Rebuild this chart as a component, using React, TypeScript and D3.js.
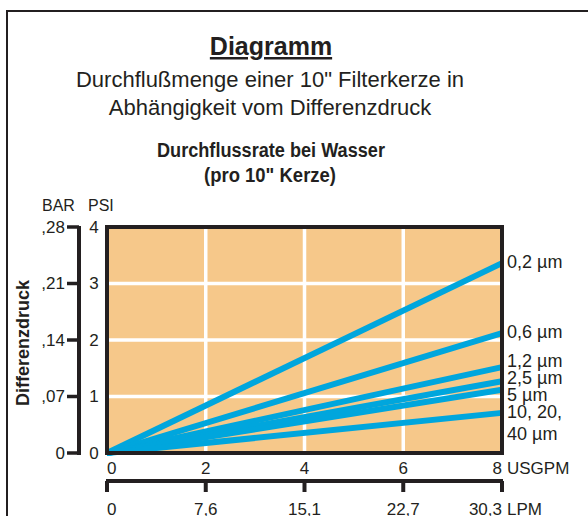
import { useEffect } from 'react';
import * as d3 from 'd3';

// Flow (USGPM) ticks and the matching LPM labels
const usgpmTicks = [0, 2, 4, 6, 8];
const lpmLabels = ['0', '7,6', '15,1', '22,7', '30,3'];

// Pressure ticks: PSI and BAR
const psiTicks = [0, 1, 2, 3, 4];
const barLabels = ['0', ',07', ',14', ',21', ',28'];

// Filter ratings and the pressure drop (PSI) they reach at 8 USGPM
const filterNames = ['0,2 µm', '0,6 µm', '1,2 µm', '2,5 µm', '5 µm', '10, 20,|40 µm'];
const flowRange = [0, 8];
const psiAtMaxFlow = [3.36, 2.12, 1.52, 1.27, 1.12, 0.71];

const FONT = '"Liberation Sans", Arial, sans-serif';
const INK = '#231f20';
const BLUE = '#00a6dd';
const PANEL = '#f6c88a';

const W = 588;
const H = 516;
const plot = { left: 107, right: 502, top: 227, bottom: 453 };

const App = () => {
  useEffect(() => {
    document.body.style.margin = '0';
  }, []);

  const x = d3.scaleLinear().domain(flowRange).range([plot.left, plot.right]);
  const y = d3.scaleLinear().domain([0, 4]).range([plot.bottom, plot.top]);
  const line = d3.line<[number, number]>().x(d => x(d[0])).y(d => y(d[1]));

  // spread the right-hand labels so they don't collide
  const labelY = psiAtMaxFlow.map(v => y(v) + 5);
  const gap = 17;
  for (let k = 0; k < 200; k++) {
    for (let i = 1; i < labelY.length; i++) {
      const diff = labelY[i] - labelY[i - 1];
      if (diff < gap) {
        const s = (gap - diff) / 2;
        labelY[i - 1] -= s;
        labelY[i] += s;
      }
    }
  }

  const barX = 79;
  const lpmY = 481;

  return (
    <svg width={W} height={H} style={{ display: 'block', fontFamily: FONT }}>
      <rect x={0} y={0} width={W} height={H} fill="#fff" />
      {/* outer frame */}
      <rect x={7} y={11} width={700} height={700} fill="none" stroke={INK} strokeWidth={2} />

      {/* titles */}
      <text x={271} y={55} textAnchor="middle" fontSize={25} fontWeight="bold" fill={INK}
        textDecoration="underline">Diagramm</text>
      <text x={270} y={87} textAnchor="middle" fontSize={22} fill={INK}>
        Durchflußmenge einer 10" Filterkerze in
      </text>
      <text x={270} y={115} textAnchor="middle" fontSize={22} fill={INK}>
        Abhängigkeit vom Differenzdruck
      </text>
      <text x={271} y={157} textAnchor="middle" fontSize={20} fontWeight="bold" fill={INK}
        textLength={228} lengthAdjust="spacingAndGlyphs">
        Durchflussrate bei Wasser
      </text>
      <text x={270} y={182} textAnchor="middle" fontSize={20} fontWeight="bold" fill={INK}
        textLength={132} lengthAdjust="spacingAndGlyphs">
        (pro 10" Kerze)
      </text>

      {/* plot panel */}
      <rect x={plot.left} y={plot.top} width={plot.right - plot.left} height={plot.bottom - plot.top} fill={PANEL} />
      {usgpmTicks.slice(1, -1).map(t => (
        <line key={'gx' + t} x1={x(t)} x2={x(t)} y1={plot.top} y2={plot.bottom} stroke="#fff" strokeWidth={3.5} />
      ))}
      {psiTicks.slice(1, -1).map(t => (
        <line key={'gy' + t} x1={plot.left} x2={plot.right} y1={y(t)} y2={y(t)} stroke="#fff" strokeWidth={3.5} />
      ))}
      {psiAtMaxFlow.map((v, i) => (
        <path key={'l' + i} d={line([[flowRange[0], 0], [flowRange[1], v]]) || ''}
          fill="none" stroke={BLUE} strokeWidth={6} />
      ))}
      <rect x={plot.left} y={plot.top} width={plot.right - plot.left} height={plot.bottom - plot.top}
        fill="none" stroke={INK} strokeWidth={4} />

      {/* right-hand filter labels */}
      {filterNames.map((name, i) => (
        <text key={'fn' + i} x={507} y={labelY[i]} fontSize={18} fill={INK}>
          {name.split('|').map((part, j) => (
            <tspan key={j} x={507} dy={j === 0 ? 0 : 22}>{part}</tspan>
          ))}
        </text>
      ))}

      {/* left axes */}
      <text x={42} y={211} fontSize={16} fill={INK}>BAR</text>
      <text x={88} y={211} fontSize={16} fill={INK}>PSI</text>
      <line x1={barX} x2={barX} y1={y(4) - 1} y2={y(0) + 2} stroke={INK} strokeWidth={4} />
      {psiTicks.map((t, i) => (
        <g key={'py' + t}>
          <line x1={67} x2={barX} y1={y(t)} y2={y(t)} stroke={INK} strokeWidth={3.5} />
          <text x={65} y={y(t)} dy="0.35em" textAnchor="end" fontSize={17} fill={INK}>{barLabels[i]}</text>
          <text x={94} y={y(t)} dy="0.35em" textAnchor="middle" fontSize={17} fill={INK}>{t}</text>
        </g>
      ))}
      <text transform={`translate(29,343) rotate(-90)`} textAnchor="middle" fontSize={18} fontWeight="bold" fill={INK}>
        Differenzdruck
      </text>

      {/* bottom axes */}
      {usgpmTicks.map((t, i) => (
        <text key={'ux' + t} x={x(t)} y={474} fontSize={17} fill={INK}
          textAnchor={i === 0 ? 'start' : i === usgpmTicks.length - 1 ? 'end' : 'middle'}>{t}</text>
      ))}
      <text x={507} y={474} fontSize={17} fill={INK}>USGPM</text>
      <line x1={x(0) - 1} x2={x(8) + 1} y1={lpmY} y2={lpmY} stroke={INK} strokeWidth={4} />
      {usgpmTicks.map((t, i) => (
        <g key={'lx' + t}>
          <line x1={x(t)} x2={x(t)} y1={lpmY} y2={lpmY + 11} stroke={INK} strokeWidth={4} />
          <text x={x(t)} y={515} fontSize={17} fill={INK}
            textAnchor={i === 0 ? 'start' : i === usgpmTicks.length - 1 ? 'end' : 'middle'}>{lpmLabels[i]}</text>
        </g>
      ))}
      <text x={507} y={515} fontSize={17} fill={INK}>LPM</text>
    </svg>
  );
};

export default App;
